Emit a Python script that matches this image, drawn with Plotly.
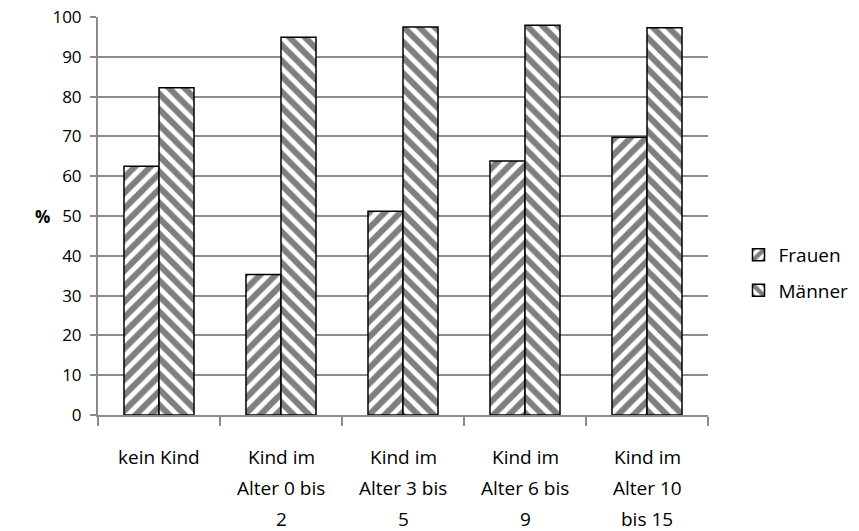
import plotly.graph_objects as go

categories = ["kein Kind", "Kind im<br>Alter 0 bis<br>2", "Kind im<br>Alter 3 bis<br>5",
              "Kind im<br>Alter 6 bis<br>9", "Kind im<br>Alter 10<br>bis 15"]
frauen = [62.5, 35.3, 51.2, 63.8, 69.8]
maenner = [82.2, 94.9, 97.5, 97.9, 97.3]
y_ticks = [0, 10, 20, 30, 40, 50, 60, 70, 80, 90, 100]

FONT = "Open Sans"
GRID = "#8c8c8c"

def pat(shape):
    return dict(shape=shape, fgcolor="black", bgcolor="white", size=11, solidity=0.55)

fig = go.Figure()
fig.add_trace(go.Bar(
    x=list(range(len(categories))), y=frauen, name="Frauen", legend="legend",
    marker=dict(color="white", line=dict(color="black", width=1.5), pattern=pat("/")),
))
fig.add_trace(go.Bar(
    x=list(range(len(categories))), y=maenner, name="Männer", legend="legend2",
    marker=dict(color="white", line=dict(color="black", width=1.5), pattern=pat("\\")),
))

annotations = []
for i, lab in enumerate(categories):
    for j, line in enumerate(lab.split("<br>")):
        annotations.append(dict(x=i, xref="x", y=0, yref="paper", yanchor="middle",
                                text=line, showarrow=False, yshift=-42 - 31 * j,
                                font=dict(family=FONT, size=19, color="black")))
annotations.append(dict(x=0, xref="paper", xanchor="center", xshift=-56, y=50, yref="y",
                        text="<b>%</b>", showarrow=False,
                        font=dict(family=FONT, size=17, color="black")))

fig.update_layout(
    width=859, height=531,
    margin=dict(l=98, r=151, t=17, b=116, autoexpand=False),
    paper_bgcolor="white", plot_bgcolor="white",
    barmode="group", bargap=0.426, bargroupgap=0,
    font=dict(family=FONT, size=19, color="black"),
    annotations=annotations,
    showlegend=True,
    legend=dict(x=1.05, y=0.402, xanchor="left", yanchor="middle", bgcolor="rgba(0,0,0,0)",
                font=dict(family=FONT, size=19), itemwidth=30, tracegroupgap=0, visible=True),
    legend2=dict(x=1.05, y=0.313, xanchor="left", yanchor="middle", bgcolor="rgba(0,0,0,0)",
                 font=dict(family=FONT, size=19), itemwidth=30, tracegroupgap=0, visible=True),
    xaxis=dict(range=[-0.5, len(categories) - 0.5], showticklabels=False,
               showline=True, linecolor=GRID, linewidth=2,
               tickmode="array", tickvals=[i - 0.5 for i in range(len(categories) + 1)],
               ticks="outside", ticklen=9, tickcolor=GRID, tickwidth=1.5, showgrid=False, zeroline=False),
    yaxis=dict(range=[0, 100], tickvals=y_ticks, showline=True, linecolor=GRID, linewidth=2,
               ticks="outside", ticklen=6, tickcolor=GRID, tickwidth=1.5,
               showgrid=True, gridcolor=GRID, gridwidth=1.5, zeroline=False,
               ticklabelstandoff=5, tickfont=dict(family=FONT, size=17)),
)

fig.write_html("out.html")
